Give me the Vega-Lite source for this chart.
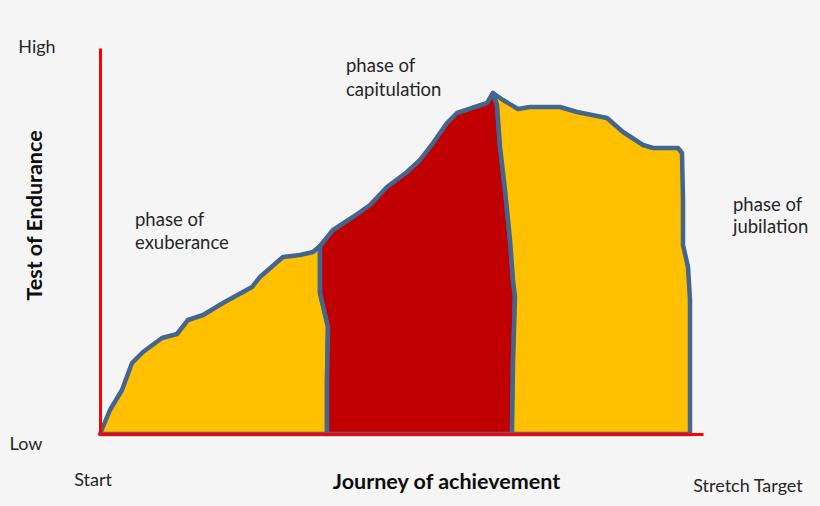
{
  "$schema": "https://vega.github.io/schema/vega-lite/v6.json",
  "autosize": "none",
  "width": 603,
  "height": 386,
  "padding": {"left": 100, "top": 48, "right": 117, "bottom": 72},
  "background": "#f5f5f5",
  "config": {"view": {"stroke": null}, "font": "Lato"},
  "datasets": {
    "shape": [
      {"region": "exuberance", "ord": 1, "journey": 0, "endurance": 0},
      {"region": "exuberance", "ord": 2, "journey": 10, "endurance": 24},
      {"region": "exuberance", "ord": 3, "journey": 22, "endurance": 44},
      {"region": "exuberance", "ord": 4, "journey": 32, "endurance": 71},
      {"region": "exuberance", "ord": 5, "journey": 43, "endurance": 82},
      {"region": "exuberance", "ord": 6, "journey": 62, "endurance": 96},
      {"region": "exuberance", "ord": 7, "journey": 77, "endurance": 100},
      {"region": "exuberance", "ord": 8, "journey": 88, "endurance": 114},
      {"region": "exuberance", "ord": 9, "journey": 103, "endurance": 119},
      {"region": "exuberance", "ord": 10, "journey": 123, "endurance": 131},
      {"region": "exuberance", "ord": 11, "journey": 152, "endurance": 147},
      {"region": "exuberance", "ord": 12, "journey": 160, "endurance": 157},
      {"region": "exuberance", "ord": 13, "journey": 183, "endurance": 177},
      {"region": "exuberance", "ord": 14, "journey": 200, "endurance": 179},
      {"region": "exuberance", "ord": 15, "journey": 213, "endurance": 182},
      {"region": "exuberance", "ord": 16, "journey": 220, "endurance": 188},
      {"region": "exuberance", "ord": 17, "journey": 220, "endurance": 141},
      {"region": "exuberance", "ord": 18, "journey": 228, "endurance": 107},
      {"region": "exuberance", "ord": 19, "journey": 227, "endurance": 54},
      {"region": "exuberance", "ord": 20, "journey": 227, "endurance": 0},
      {"region": "exuberance", "ord": 21, "journey": 0, "endurance": 0},

      {"region": "capitulation", "ord": 1, "journey": 220, "endurance": 188},
      {"region": "capitulation", "ord": 2, "journey": 233, "endurance": 204},
      {"region": "capitulation", "ord": 3, "journey": 253, "endurance": 217},
      {"region": "capitulation", "ord": 4, "journey": 270, "endurance": 229},
      {"region": "capitulation", "ord": 5, "journey": 287, "endurance": 247},
      {"region": "capitulation", "ord": 6, "journey": 307, "endurance": 262},
      {"region": "capitulation", "ord": 7, "journey": 320, "endurance": 274},
      {"region": "capitulation", "ord": 8, "journey": 333, "endurance": 291},
      {"region": "capitulation", "ord": 9, "journey": 347, "endurance": 311},
      {"region": "capitulation", "ord": 10, "journey": 357, "endurance": 321},
      {"region": "capitulation", "ord": 11, "journey": 387, "endurance": 331},
      {"region": "capitulation", "ord": 12, "journey": 393, "endurance": 341},
      {"region": "capitulation", "ord": 13, "journey": 397, "endurance": 329},
      {"region": "capitulation", "ord": 14, "journey": 400, "endurance": 287},
      {"region": "capitulation", "ord": 15, "journey": 405, "endurance": 244},
      {"region": "capitulation", "ord": 16, "journey": 410, "endurance": 194},
      {"region": "capitulation", "ord": 17, "journey": 413, "endurance": 154},
      {"region": "capitulation", "ord": 18, "journey": 415, "endurance": 137},
      {"region": "capitulation", "ord": 19, "journey": 413, "endurance": 71},
      {"region": "capitulation", "ord": 20, "journey": 412, "endurance": 0},
      {"region": "capitulation", "ord": 21, "journey": 227, "endurance": 0},
      {"region": "capitulation", "ord": 22, "journey": 227, "endurance": 54},
      {"region": "capitulation", "ord": 23, "journey": 228, "endurance": 107},
      {"region": "capitulation", "ord": 24, "journey": 220, "endurance": 141},
      {"region": "capitulation", "ord": 25, "journey": 220, "endurance": 188},

      {"region": "jubilation", "ord": 1, "journey": 393, "endurance": 341},
      {"region": "jubilation", "ord": 2, "journey": 403, "endurance": 334},
      {"region": "jubilation", "ord": 3, "journey": 418, "endurance": 325},
      {"region": "jubilation", "ord": 4, "journey": 430, "endurance": 327},
      {"region": "jubilation", "ord": 5, "journey": 460, "endurance": 327},
      {"region": "jubilation", "ord": 6, "journey": 477, "endurance": 322},
      {"region": "jubilation", "ord": 7, "journey": 507, "endurance": 316},
      {"region": "jubilation", "ord": 8, "journey": 523, "endurance": 302},
      {"region": "jubilation", "ord": 9, "journey": 543, "endurance": 289},
      {"region": "jubilation", "ord": 10, "journey": 553, "endurance": 286},
      {"region": "jubilation", "ord": 11, "journey": 578, "endurance": 286},
      {"region": "jubilation", "ord": 12, "journey": 582, "endurance": 281},
      {"region": "jubilation", "ord": 13, "journey": 583, "endurance": 234},
      {"region": "jubilation", "ord": 14, "journey": 583, "endurance": 189},
      {"region": "jubilation", "ord": 15, "journey": 588, "endurance": 167},
      {"region": "jubilation", "ord": 16, "journey": 590, "endurance": 134},
      {"region": "jubilation", "ord": 17, "journey": 590, "endurance": 0},
      {"region": "jubilation", "ord": 18, "journey": 412, "endurance": 0},
      {"region": "jubilation", "ord": 19, "journey": 413, "endurance": 71},
      {"region": "jubilation", "ord": 20, "journey": 415, "endurance": 137},
      {"region": "jubilation", "ord": 21, "journey": 413, "endurance": 154},
      {"region": "jubilation", "ord": 22, "journey": 410, "endurance": 194},
      {"region": "jubilation", "ord": 23, "journey": 405, "endurance": 244},
      {"region": "jubilation", "ord": 24, "journey": 400, "endurance": 287},
      {"region": "jubilation", "ord": 25, "journey": 397, "endurance": 329},
      {"region": "jubilation", "ord": 26, "journey": 393, "endurance": 341}
    ],
    "cornerLabels": [
      {"text": "High", "journey": -63, "endurance": 386},
      {"text": "Low", "journey": -74, "endurance": -11},
      {"text": "Start", "journey": -7, "endurance": -47},
      {"text": "Stretch Target", "journey": 648, "endurance": -53}
    ],
    "phaseLabels": [
      {"text": "phase of", "journey": 35, "endurance": 214},
      {"text": "exuberance", "journey": 35, "endurance": 191},
      {"text": "phase of", "journey": 246, "endurance": 368},
      {"text": "capitulation", "journey": 246, "endurance": 344},
      {"text": "phase of", "journey": 633, "endurance": 229},
      {"text": "jubilation", "journey": 633, "endurance": 207}
    ]
  },
  "encoding": {
    "x": {
      "field": "journey", "type": "quantitative",
      "scale": {"domain": [0, 603], "nice": false, "zero": false},
      "axis": {
        "title": "Journey of achievement",
        "titleFont": "Lato", "titleFontSize": 21.5, "titleFontWeight": "bold", "titleColor": "#0d0d0d",
        "titleX": 346, "titleY": 48, "titleBaseline": "middle", "titleAlign": "center",
        "domainColor": "#ff0000", "domainWidth": 3, "ticks": false, "labels": false, "grid": false, "zindex": 2
      }
    },
    "y": {
      "field": "endurance", "type": "quantitative",
      "scale": {"domain": [0, 386], "nice": false, "zero": false},
      "axis": {
        "title": "Test of Endurance",
        "titleFont": "Lato", "titleFontSize": 21.5, "titleFontWeight": "bold", "titleColor": "#0d0d0d",
        "titleX": -65, "titleY": 167, "titleBaseline": "middle", "titleAlign": "center", "titleAngle": 270,
        "domainColor": "#ff0000", "domainWidth": 3, "ticks": false, "labels": false, "grid": false, "zindex": 2
      }
    }
  },
  "layer": [
    {
      "data": {"name": "shape"},
      "mark": {"type": "line", "stroke": "#44658e", "strokeWidth": 4.5, "strokeJoin": "round", "strokeCap": "round", "interpolate": "linear"},
      "encoding": {
        "detail": {"field": "region"},
        "order": {"field": "ord", "type": "quantitative"},
        "fill": {
          "field": "region", "type": "nominal",
          "scale": {"domain": ["exuberance", "capitulation", "jubilation"], "range": ["#ffc000", "#c00000", "#ffc000"]},
          "legend": null
        }
      }
    },
    {
      "data": {"name": "cornerLabels"},
      "mark": {"type": "text", "align": "center", "baseline": "middle", "color": "#262626", "font": "Lato", "fontSize": 18},
      "encoding": {"text": {"field": "text"}}
    },
    {
      "data": {"name": "phaseLabels"},
      "mark": {"type": "text", "align": "left", "baseline": "middle", "color": "#262626", "font": "Lato", "fontSize": 18.5},
      "encoding": {"text": {"field": "text"}}
    }
  ]
}
